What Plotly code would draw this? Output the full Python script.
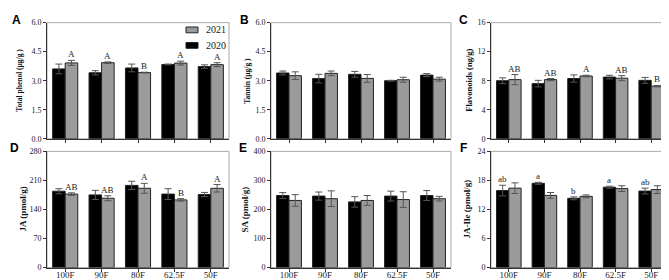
import plotly.graph_objects as go

W, H = 669, 280

categories = ["100F", "90F", "80F", "62.5F", "50F"]
series_names = ["2020", "2021"]

a_2020 = [3.61, 3.41, 3.66, 3.84, 3.73]
a_2020_err = [0.25, 0.11, 0.20, 0.02, 0.09]
a_2021 = [3.92, 3.93, 3.42, 3.91, 3.83]
a_2021_err = [0.13, 0.04, 0.02, 0.10, 0.10]
a_letters = ["A", "A", "B", "A", "A"]

b_2020 = [3.40, 3.11, 3.33, 3.00, 3.29]
b_2020_err = [0.10, 0.22, 0.15, 0.02, 0.08]
b_2021 = [3.26, 3.38, 3.12, 3.05, 3.08]
b_2021_err = [0.20, 0.12, 0.20, 0.13, 0.10]

c_2020 = [8.0, 7.6, 8.3, 8.5, 8.05]
c_2020_err = [0.40, 0.45, 0.50, 0.25, 0.40]
c_2021 = [8.15, 8.15, 8.65, 8.35, 7.25]
c_2021_err = [0.70, 0.15, 0.10, 0.35, 0.10]
c_letters = ["AB", "AB", "A", "AB", "B"]

d_2020 = [184, 175, 198, 177, 176]
d_2020_err = [6, 11, 10, 13, 5]
d_2021 = [177, 167, 191, 163, 191]
d_2021_err = [3, 6, 12, 3, 9]
d_letters = ["AB", "AB", "A", "B", "A"]

e_2020 = [248, 246, 226, 246, 248]
e_2020_err = [10, 14, 18, 17, 17]
e_2021 = [231, 237, 231, 234, 237]
e_2021_err = [20, 27, 17, 27, 8]

f_2020 = [15.9, 17.4, 14.3, 16.6, 15.8]
f_2020_err = [1.1, 0.2, 0.3, 0.2, 0.6]
f_2021 = [16.4, 14.9, 14.7, 16.3, 16.1]
f_2021_err = [1.1, 0.6, 0.3, 0.6, 0.8]
f_letters = ["ab", "a", "b", "a", "ab"]

BLACK = "#000000"
GRAY = "#9b9b9b"

panels = [
    dict(tag="A", title="Total phenol (μg/g )", tsize=7.5, tx=12, black=a_2020, berr=a_2020_err,
         gray=a_2021, gerr=a_2021_err, rng=[0, 6], dtick=1.5, fmt=".1f", letters=a_letters, on="gray",
         col=0, row=0),
    dict(tag="B", title="Tannin (μg/g )", tsize=7.5, tx=240, black=b_2020, berr=b_2020_err,
         gray=b_2021, gerr=b_2021_err, rng=[0, 6], dtick=1.5, fmt=".1f", letters=None, on=None,
         col=1, row=0),
    dict(tag="C", title="Flavonoids (ng/g)", tsize=8.5, tx=461, black=c_2020, berr=c_2020_err,
         gray=c_2021, gerr=c_2021_err, rng=[0, 16], dtick=4, fmt="d", letters=c_letters, on="gray",
         col=2, row=0),
    dict(tag="D", title="JA (pmol/g)", tsize=9, tx=15, black=d_2020, berr=d_2020_err,
         gray=d_2021, gerr=d_2021_err, rng=[0, 280], dtick=70, fmt="d", letters=d_letters, on="gray",
         col=0, row=1),
    dict(tag="E", title="SA (pmol/g)", tsize=9, tx=237, black=e_2020, berr=e_2020_err,
         gray=e_2021, gerr=e_2021_err, rng=[0, 400], dtick=100, fmt="d", letters=None, on=None,
         col=1, row=1),
    dict(tag="F", title="JA-Ile (pmol/g)", tsize=9, tx=459, black=f_2020, berr=f_2020_err,
         gray=f_2021, gerr=f_2021_err, rng=[0, 24], dtick=6, fmt="d", letters=f_letters, on="black",
         col=2, row=1),
]

cols_px = [(39, 221), (263, 443), (483, 661)]
rows_px = [(11, 131), (144, 264)]
tag_pos = [[(8, 8), (236, 8), (455, 8)], [(6, 140), (235, 140), (455, 140)]]

BARGAP = 0.31
SERIF = "Liberation Serif"

fig = go.Figure()
annotations = []
shapes = []

for i, p in enumerate(panels):
    n = i + 1
    xa = "x" if n == 1 else f"x{n}"
    ya = "y" if n == 1 else f"y{n}"
    x0, x1 = cols_px[p["col"]]
    y0, y1 = rows_px[p["row"]]
    fig.add_trace(go.Bar(
        x=categories, y=p["black"], name=series_names[0], xaxis=xa, yaxis=ya,
        marker=dict(color=BLACK, line=dict(color="#222222", width=1)),
        error_y=dict(type="data", array=p["berr"], thickness=1, width=3.5, color="#555555"),
        showlegend=False,
    ))
    fig.add_trace(go.Bar(
        x=categories, y=p["gray"], name=series_names[1], xaxis=xa, yaxis=ya,
        marker=dict(color=GRAY, line=dict(color="#222222", width=1)),
        error_y=dict(type="data", array=p["gerr"], thickness=1, width=3.5, color="#555555"),
        showlegend=False,
    ))
    xkey = "xaxis" if n == 1 else f"xaxis{n}"
    ykey = "yaxis" if n == 1 else f"yaxis{n}"
    fig.update_layout(**{
        xkey: dict(domain=[x0 / W, x1 / W], anchor=ya, showline=True, linecolor="#333333",
                   linewidth=1, ticks="outside", ticklen=3, tickcolor="#333333",
                   showticklabels=(p["row"] == 1), showgrid=False, zeroline=False,
                   ticklabelstandoff=-4,
                   tickfont=dict(family=SERIF, size=9, color="#222222"), fixedrange=True),
        ykey: dict(domain=[1 - y1 / H, 1 - y0 / H], anchor=xa, range=p["rng"], dtick=p["dtick"],
                   tick0=0, tickformat=p["fmt"], showline=True, linecolor="#333333", linewidth=1,
                   ticks="outside", ticklen=3, tickcolor="#333333", showgrid=False, zeroline=False,
                   tickfont=dict(family=SERIF, size=8, color="#222222"), fixedrange=True),
    })
    shapes.append(dict(type="rect", xref=f"{xa} domain", yref=f"{ya} domain", x0=0, x1=1, y0=0, y1=1,
                       line=dict(color="#aaaaaa", width=1), layer="below"))
    annotations.append(dict(text=f"<b>{p['title']}</b>", xref="paper", yref="paper",
                            x=p["tx"] / W, y=1 - (y0 + y1) / 2 / H, textangle=-90, showarrow=False,
                            font=dict(family=SERIF, size=p["tsize"], color="#111111"),
                            xanchor="center", yanchor="middle"))
    tx, ty = tag_pos[p["row"]][p["col"]]
    annotations.append(dict(text=f"<b>{p['tag']}</b>", xref="paper", yref="paper",
                            x=tx / W, y=1 - ty / H, showarrow=False,
                            font=dict(family="Liberation Sans", size=12, color="#000000"),
                            xanchor="center", yanchor="middle"))
    if p["letters"]:
        cat_w = (x1 - x0) / len(categories)
        bar_w = cat_w * (1 - BARGAP) / 2
        off = bar_w / 2 if p["on"] == "gray" else -bar_w / 2
        vals = p["gray"] if p["on"] == "gray" else p["black"]
        errs = p["gerr"] if p["on"] == "gray" else p["berr"]
        for c, v, e, t in zip(categories, vals, errs, p["letters"]):
            annotations.append(dict(text=t, xref=xa, yref=ya, x=c, y=v + e, xshift=off, yshift=-1,
                                    showarrow=False, xanchor="center", yanchor="bottom",
                                    font=dict(family=SERIF, size=9, color="#222222")))

# legend (panel A): 2021 on top, 2020 below
legend_items = [(series_names[1], GRAY, 18.5), (series_names[0], BLACK, 34.5)]
for name, color, yc in legend_items:
    shapes.append(dict(type="rect", xref="paper", yref="paper",
                       x0=178 / W, x1=190 / W, y0=1 - (yc + 3) / H, y1=1 - (yc - 3) / H,
                       fillcolor=color, line=dict(color="#222222", width=1)))
    annotations.append(dict(text=name, xref="paper", yref="paper", x=196 / W, y=1 - yc / H,
                            xanchor="left", yanchor="middle", showarrow=False,
                            font=dict(family=SERIF, size=10, color="#222222")))

fig.update_layout(
    width=W, height=H, margin=dict(l=0, r=0, t=0, b=0),
    paper_bgcolor="white", plot_bgcolor="white",
    barmode="group", bargap=BARGAP, bargroupgap=0,
    font=dict(family=SERIF, color="#222222"),
    showlegend=False,
    annotations=annotations, shapes=shapes,
)

fig.write_html("out.html")
